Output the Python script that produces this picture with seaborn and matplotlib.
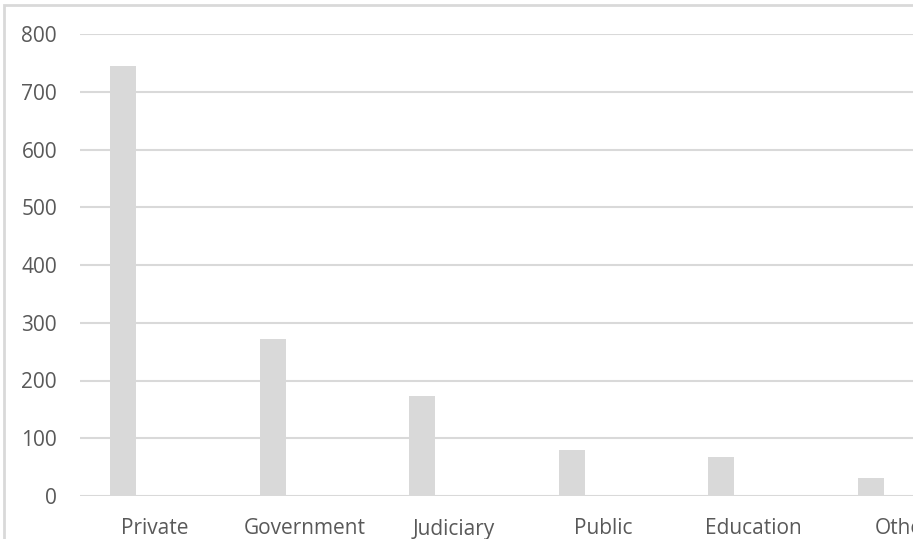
import matplotlib
matplotlib.use("Agg")
import matplotlib.pyplot as plt
import seaborn as sns
import pandas as pd
import numpy as np
from matplotlib.patches import Rectangle

# ---- data ----
categories = ["Private", "Government", "Judiciary", "Public", "Education", "Other"]
counts = [745, 272, 173, 80, 68, 31]
series_names = ["Count", "Series 2", "Series 3"]   # clustered chart: only first series has values
y_ticks = [0, 100, 200, 300, 400, 500, 600, 700, 800]

W, H = 920, 539
sns.set_theme(style="white")
plt.rcParams['font.family'] = ['Open Sans', 'DejaVu Sans']

rows = []
for s in series_names:
    for c, v in zip(categories, counts):
        rows.append({"category": c, "series": s, "value": v if s == series_names[0] else np.nan})
df = pd.DataFrame(rows)

fig = plt.figure(figsize=(W / 100, H / 100), dpi=100)
ax_left, ax_right = 80, 913
ax_top, ax_bottom = 34, 496
ax = fig.add_axes([ax_left / W, (H - ax_bottom) / H, (ax_right - ax_left) / W, (ax_bottom - ax_top) / H])

grid_col = "#d9d9d9"
text_col = "#595959"

sns.barplot(data=df, x="category", y="value", hue="series", order=categories,
            hue_order=series_names, palette=[grid_col] * 3, width=0.638, gap=0.18,
            legend=False, ax=ax, zorder=3, linewidth=0)

slot_px = 149.6
ax.set_xlim(-0.5, -0.5 + (ax_right - ax_left) / slot_px)
ax.set_ylim(0, 800)
ax.set_yticks(y_ticks)
ax.yaxis.grid(True, color=grid_col, linewidth=1.5, zorder=0)
ax.set_axisbelow(True)
for sp in ax.spines.values():
    sp.set_visible(False)
ax.set_xlabel("")
ax.set_ylabel("")
ax.tick_params(axis="y", length=0, pad=16.5, labelsize=15, labelcolor=text_col)
ax.tick_params(axis="x", length=0, pad=16.2, labelsize=15, labelcolor=text_col)

# chart-area border (cropped screenshot)
fig.patches.append(Rectangle((4 / W, -0.2), 2.0, (H - 5) / H + 0.2, transform=fig.transFigure,
                             fill=False, edgecolor=grid_col, linewidth=2, zorder=0))
# right crop strip
fig.patches.append(Rectangle((913 / W, 0), 1.0, 1.0, transform=fig.transFigure,
                             facecolor="white", edgecolor="none", zorder=100))

fig.savefig("out.png", dpi=100)
